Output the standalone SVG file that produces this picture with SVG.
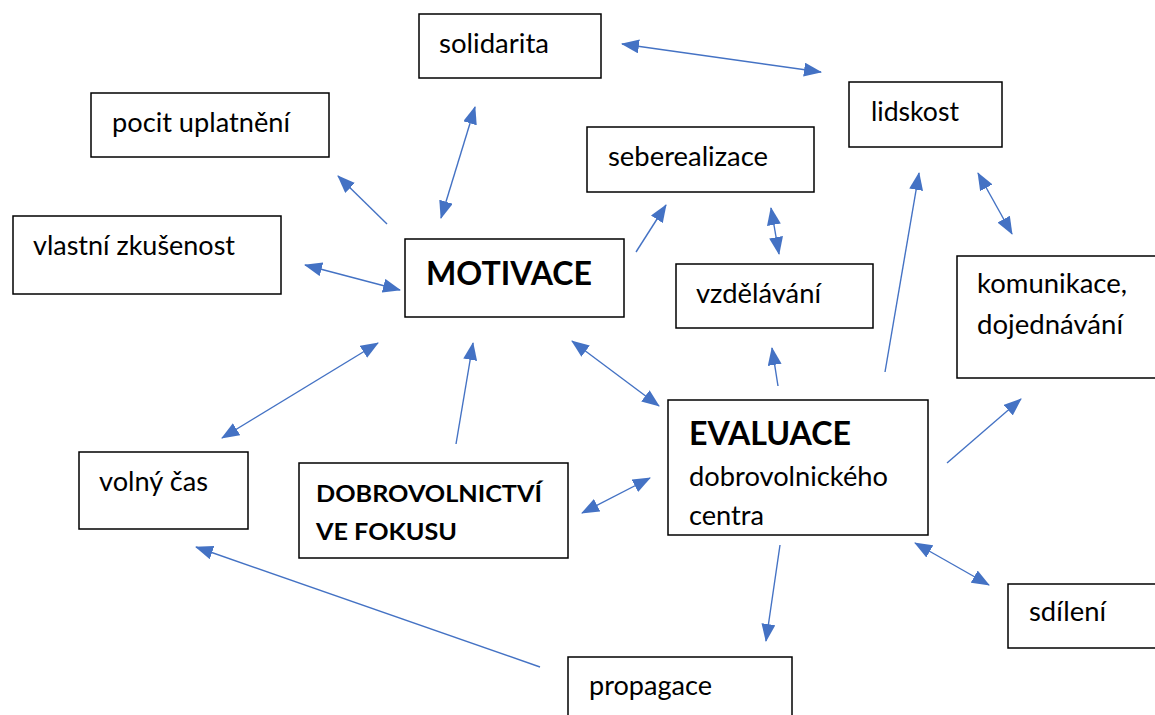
<svg xmlns="http://www.w3.org/2000/svg" width="1155" height="715" viewBox="0 0 1155 715">
<style>
.box{fill:#fff;stroke:#000;stroke-width:1.5}
.t{font-family:Lato,"Open Sans",sans-serif;font-size:27px;fill:#000}
.b{font-family:Lato,"Open Sans",sans-serif;font-weight:bold;fill:#000}
.c line{stroke:#4472C4;stroke-width:1.4}
</style>
<defs>
<marker id="ah" markerUnits="userSpaceOnUse" markerWidth="18" markerHeight="14" refX="17" refY="7" orient="auto-start-reverse">
<path d="M0,0 L18,7 L0,14 Z" fill="#4472C4"/>
</marker>
</defs>
<rect width="1155" height="715" fill="#fff"/>
<g id="solidarita"><rect class="box" x="419" y="14" width="182" height="64"/><text class="t" x="439" y="53" textLength="110" lengthAdjust="spacingAndGlyphs">solidarita</text></g>
<g id="lidskost"><rect class="box" x="849" y="82" width="153" height="65"/><text class="t" x="871" y="121" textLength="88" lengthAdjust="spacingAndGlyphs">lidskost</text></g>
<g id="pocit"><rect class="box" x="91" y="93" width="238" height="64"/><text class="t" x="112" y="132" textLength="178" lengthAdjust="spacingAndGlyphs">pocit uplatnění</text></g>
<g id="seberealizace"><rect class="box" x="587" y="127" width="227" height="65"/><text class="t" x="608" y="166" textLength="160" lengthAdjust="spacingAndGlyphs">seberealizace</text></g>
<g id="vlastni"><rect class="box" x="13" y="216" width="268" height="78"/><text class="t" x="33" y="255" textLength="202" lengthAdjust="spacingAndGlyphs">vlastní zkušenost</text></g>
<g id="motivace"><rect class="box" x="405" y="239" width="219" height="78"/><text class="b" x="426" y="285" font-size="32" textLength="166" lengthAdjust="spacingAndGlyphs">MOTIVACE</text></g>
<g id="vzdelavani"><rect class="box" x="676" y="264" width="197" height="64"/><text class="t" x="696" y="303" textLength="125" lengthAdjust="spacingAndGlyphs">vzdělávání</text></g>
<g id="komunikace"><rect class="box" x="957" y="256" width="210" height="122"/><text class="t" x="977" y="293" textLength="150" lengthAdjust="spacingAndGlyphs">komunikace,</text><text class="t" x="977" y="334" textLength="146" lengthAdjust="spacingAndGlyphs">dojednávání</text></g>
<g id="volny"><rect class="box" x="79" y="452" width="169" height="77"/><text class="t" x="99" y="491" textLength="109" lengthAdjust="spacingAndGlyphs">volný čas</text></g>
<g id="dobrovolnictvi"><rect class="box" x="299" y="463" width="269" height="95"/><text class="b" x="316" y="502" font-size="22" textLength="226" lengthAdjust="spacingAndGlyphs">DOBROVOLNICTVÍ</text><text class="b" x="316" y="540" font-size="22" textLength="141" lengthAdjust="spacingAndGlyphs">VE FOKUSU</text></g>
<g id="evaluace"><rect class="box" x="668" y="400" width="260" height="135"/><text class="b" x="689" y="445" font-size="32" textLength="162" lengthAdjust="spacingAndGlyphs">EVALUACE</text><text class="t" x="689" y="486" textLength="199" lengthAdjust="spacingAndGlyphs">dobrovolnického</text><text class="t" x="689" y="525" textLength="75" lengthAdjust="spacingAndGlyphs">centra</text></g>
<g id="sdileni"><rect class="box" x="1008" y="584" width="160" height="64"/><text class="t" x="1029" y="621" textLength="77" lengthAdjust="spacingAndGlyphs">sdílení</text></g>
<g id="propagace"><rect class="box" x="568" y="657" width="224" height="70"/><text class="t" x="589" y="695" textLength="123" lengthAdjust="spacingAndGlyphs">propagace</text></g>
<g id="connectors" class="c">
<line x1="622" y1="44" x2="821" y2="72" marker-start="url(#ah)" marker-end="url(#ah)"/>
<line x1="475" y1="107" x2="441" y2="218" marker-start="url(#ah)" marker-end="url(#ah)"/>
<line x1="387" y1="224" x2="338" y2="176" marker-end="url(#ah)"/>
<line x1="305" y1="265" x2="400" y2="290" marker-start="url(#ah)" marker-end="url(#ah)"/>
<line x1="636" y1="252" x2="666" y2="205" marker-end="url(#ah)"/>
<line x1="771" y1="208" x2="779" y2="254" marker-start="url(#ah)" marker-end="url(#ah)"/>
<line x1="885" y1="372" x2="919" y2="173" marker-end="url(#ah)"/>
<line x1="978" y1="173" x2="1012" y2="234" marker-start="url(#ah)" marker-end="url(#ah)"/>
<line x1="572" y1="341" x2="659" y2="406" marker-start="url(#ah)" marker-end="url(#ah)"/>
<line x1="778" y1="386" x2="772" y2="348" marker-end="url(#ah)"/>
<line x1="947" y1="463" x2="1021" y2="399" marker-end="url(#ah)"/>
<line x1="222" y1="438" x2="378" y2="343" marker-start="url(#ah)" marker-end="url(#ah)"/>
<line x1="456" y1="444" x2="473" y2="343" marker-end="url(#ah)"/>
<line x1="582" y1="513" x2="650" y2="478" marker-start="url(#ah)" marker-end="url(#ah)"/>
<line x1="780" y1="545" x2="766" y2="641" marker-end="url(#ah)"/>
<line x1="915" y1="543" x2="989" y2="585" marker-start="url(#ah)" marker-end="url(#ah)"/>
<line x1="540" y1="667" x2="196" y2="547" marker-end="url(#ah)"/>
</g>
</svg>
